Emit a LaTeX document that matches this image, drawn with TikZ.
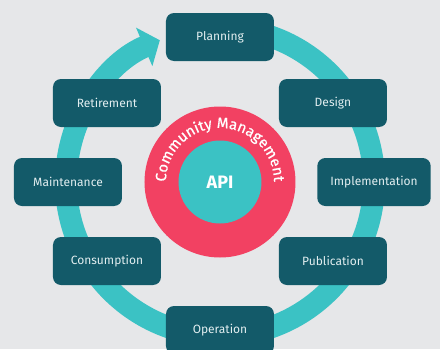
\documentclass[tikz,border=0pt]{standalone}
\usepackage{fontspec}
\setmainfont{Fira Sans}
\newfontfamily\ringfont[FakeBold=0.6]{Fira Sans}
\usetikzlibrary{arrows.meta,decorations.text}

\definecolor{bgrey}{HTML}{E6E7E9}
\definecolor{ringteal}{HTML}{3BC2C4}
\definecolor{boxteal}{HTML}{135A69}
\definecolor{commred}{HTML}{F24162}
\definecolor{boxtext}{HTML}{E2EEF0}

\begin{document}
\begin{tikzpicture}[x=1pt,y=1pt,
  stage/.style={rectangle,rounded corners=8pt,fill=boxteal,text=boxtext,
    minimum width=108pt,minimum height=48pt,inner xsep=13pt,
    font=\fontsize{12}{14}\selectfont}]
\fill[bgrey] (-220,-167) rectangle (220,182);
\useasboundingbox (-220,-167) rectangle (220,182);
% life cycle ring
\draw[ringteal,line width=22pt,-{Triangle[length=17pt,width=41pt]}]
  (85:154) arc[start angle=85,end angle=-247,radius=154];
\node (comm)[circle,fill=commred,minimum size=151pt] at (0,0) {};
\node (api)[circle,fill=ringteal,minimum size=83pt,text=white,
  font=\bfseries\fontsize{18}{18}\selectfont] at (0,0) {API};
\path[decorate,decoration={text along path,text align=center,
  text={|\color{white}\ringfont\fontsize{15}{15}\selectfont|Community{ }Management}}]
  (182:54) arc[start angle=182,end angle=-2,radius=54];
% stages
\node (plan)[stage] at (0,145) {Planning};
\node (design)[stage] at (113,79) {Design};
\node (impl)[stage] at (154,0) {Implementation};
\node (publ)[stage] at (113,-79) {Publication};
\node (oper)[stage] at (0,-148) {Operation};
\node (cons)[stage] at (-113,-79) {Consumption};
\node (maint)[stage] at (-152,0) {Maintenance};
\node (retire)[stage] at (-113,79) {Retirement};
\end{tikzpicture}
\end{document}
